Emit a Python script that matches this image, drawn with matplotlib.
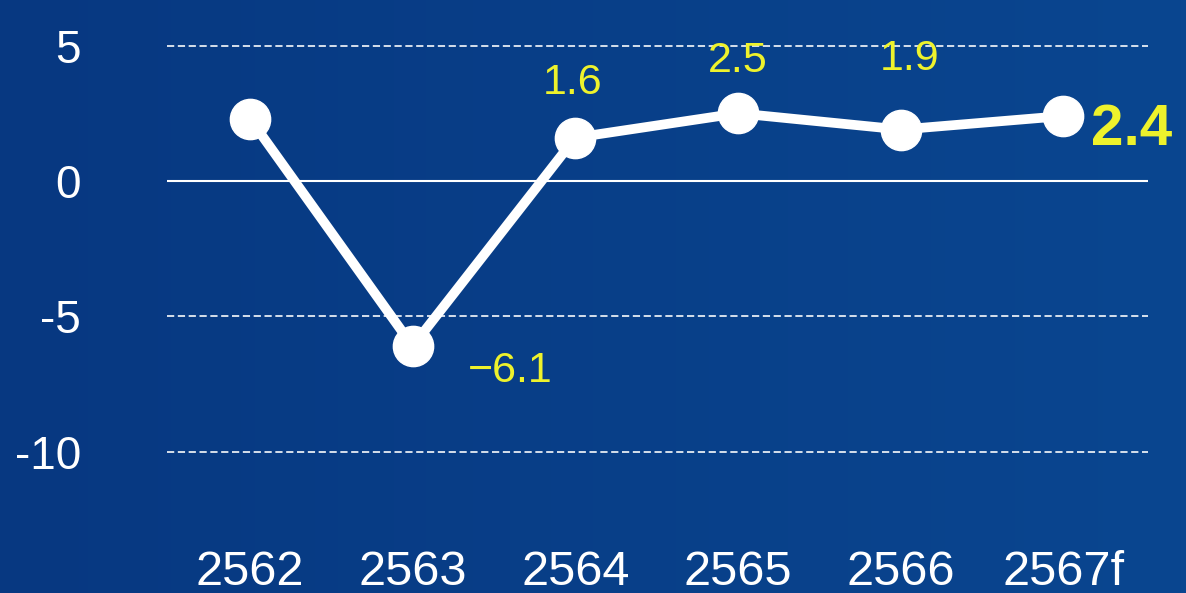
import numpy as np
import matplotlib.pyplot as plt
from matplotlib.colors import LinearSegmentedColormap

# Annual growth (%), Thai fiscal years
years = ['2562', '2563', '2564', '2565', '2566', '2567f']
growth = [2.3, -6.1, 1.6, 2.5, 1.9, 2.4]
yticks = [5, 0, -5, -10]

# label offsets in points (dx, dy) for each labelled point; None = no label
label_offsets = [None, (70, -18), (-2, 39), (0, 38), (6, 51), (20, -10)]

yellow = '#eef22c'
font = ['Liberation Sans', 'DejaVu Sans']

fig = plt.figure(figsize=(11.86, 5.93), dpi=100)

# background: dark blue with a slight left-to-right lightening
bg = fig.add_axes([0, 0, 1, 1])
grad = np.linspace(0, 1, 256).reshape(1, -1)
cmap = LinearSegmentedColormap.from_list('bg', ['#073881', '#0a4690'])
bg.imshow(grad, aspect='auto', cmap=cmap, extent=[0, 1, 0, 1])
bg.axis('off')

ax = fig.add_axes([0.1408, 0.1012, 0.8272, 0.8904])
ax.patch.set_alpha(0)
x = np.arange(len(years))

for t in yticks:
    if t == 0:
        ax.axhline(t, color='white', lw=1.5, zorder=1)
    else:
        ax.axhline(t, color='white', lw=1.3, ls=(0, (4, 2)), alpha=0.9, zorder=1)

ax.plot(x, growth, color='white', lw=7, marker='o', markersize=29,
        markerfacecolor='white', markeredgecolor='white', zorder=3,
        solid_capstyle='round')

for i, (v, off) in enumerate(zip(growth, label_offsets)):
    if off is None:
        continue
    last = i == len(growth) - 1
    ax.annotate(f'{v:.1f}'.replace('-', '\u2212'), (i, v), xytext=off,
                textcoords='offset points',
                ha='left' if last else 'center', va='center',
                color=yellow, fontsize=42 if last else 31,
                fontweight='bold' if last else 'normal',
                family=font, zorder=4)

ax.set_xlim(-0.51, 5.52)
ax.set_ylim(-13, 6.5)
ax.set_xticks(x)
ax.set_xticklabels(years)
ax.set_yticks(yticks)
ax.set_yticklabels([str(t) for t in yticks])

ax.tick_params(axis='x', length=0, pad=12, labelsize=35, labelcolor='white')
ax.tick_params(axis='y', length=0, pad=62, labelsize=33, labelcolor='white')
for lab in ax.get_xticklabels() + ax.get_yticklabels():
    lab.set_family(font)
for side in ax.spines.values():
    side.set_visible(False)

fig.savefig('out.png', dpi=100)
